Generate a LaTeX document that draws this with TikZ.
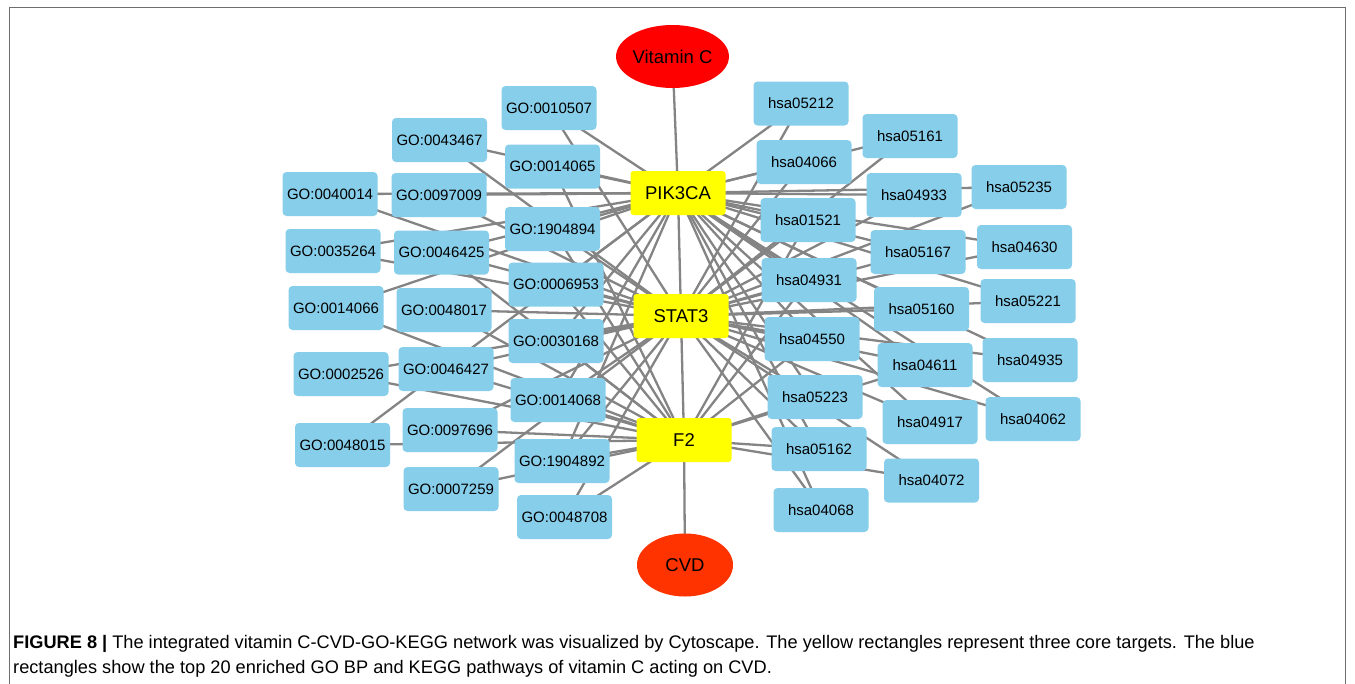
\documentclass[tikz,border=0pt]{standalone}
\usepackage{fontspec}
\setmainfont{Liberation Sans}
\usetikzlibrary{shapes.geometric}
\pgfdeclarelayer{bg}
\pgfdeclarelayer{edges}
\pgfsetlayers{bg,edges,main}
\definecolor{goblue}{RGB}{135,206,235}
\definecolor{coreyel}{RGB}{255,255,0}
\definecolor{vcred}{RGB}{255,0,0}
\definecolor{cvdred}{RGB}{255,51,0}
\definecolor{edgegray}{RGB}{132,132,132}
\definecolor{framegray}{RGB}{110,110,110}
\begin{document}
\begin{tikzpicture}[x=1pt,y=-1pt,
  termbox/.style={fill=goblue, rounded corners=4pt, minimum width=95pt, minimum height=44pt, inner sep=0pt, font=\fontsize{15}{18}\selectfont},
  corebox/.style={fill=coreyel, rounded corners=3pt, minimum width=95pt, minimum height=44pt, inner sep=0pt, font=\fontsize{18.5}{22}\selectfont},
  endell/.style={ellipse, minimum width=96pt, minimum height=63pt, inner sep=0pt, font=\fontsize{18.5}{22}\selectfont},
  link/.style={draw=edgegray, line width=2.3pt},
  captext/.style={anchor=base west, inner sep=0pt, font=\fontsize{18.2}{22}\selectfont}]
\useasboundingbox (0,0) rectangle (1355,683);
\begin{pgfonlayer}{bg}
  \fill[white] (0,0) rectangle (1355,683);
  \draw[framegray, line width=1pt] (9.5,700) -- (9.5,7.5) -- (1345.5,7.5) -- (1345.5,700);
\end{pgfonlayer}

% end nodes
\node[endell, fill=vcred] (VC) at (672.5,56.5) {Vitamin C};
\node[endell, fill=cvdred] (CVD) at (685,565) {CVD};
% core targets
\node[corebox] (P) at (678,193) {PIK3CA};
\node[corebox] (S) at (681,316) {STAT3};
\node[corebox] (F) at (684,440) {F2};

% GO terms
\node[termbox] (g0010507) at (549,108) {GO:0010507};
\node[termbox] (g0043467) at (439.5,140) {GO:0043467};
\node[termbox] (g0014065) at (552.5,166.5) {GO:0014065};
\node[termbox] (g0040014) at (330,194) {GO:0040014};
\node[termbox] (g0097009) at (439,195) {GO:0097009};
\node[termbox] (g1904894) at (552.5,229) {GO:1904894};
\node[termbox] (g0035264) at (333,251) {GO:0035264};
\node[termbox] (g0046425) at (441.5,252.5) {GO:0046425};
\node[termbox] (g0006953) at (556,284.5) {GO:0006953};
\node[termbox] (g0014066) at (336,308) {GO:0014066};
\node[termbox] (g0048017) at (444,310) {GO:0048017};
\node[termbox] (g0030168) at (556,341) {GO:0030168};
\node[termbox] (g0002526) at (341,374) {GO:0002526};
\node[termbox] (g0046427) at (446,369) {GO:0046427};
\node[termbox] (g0014068) at (558,400) {GO:0014068};
\node[termbox] (g0048015) at (342.5,445) {GO:0048015};
\node[termbox] (g0097696) at (450,430) {GO:0097696};
\node[termbox] (g1904892) at (562,461) {GO:1904892};
\node[termbox] (g0007259) at (451,489) {GO:0007259};
\node[termbox] (g0048708) at (564.5,517) {GO:0048708};

% KEGG pathways
\node[termbox] (h05212) at (801,103.5) {hsa05212};
\node[termbox] (h05161) at (910,136) {hsa05161};
\node[termbox] (h04066) at (804,162) {hsa04066};
\node[termbox] (h04933) at (914,195) {hsa04933};
\node[termbox] (h05235) at (1019,187) {hsa05235};
\node[termbox] (h01521) at (808,220) {hsa01521};
\node[termbox] (h05167) at (918,252) {hsa05167};
\node[termbox] (h04630) at (1024.5,247) {hsa04630};
\node[termbox] (h04931) at (809,280) {hsa04931};
\node[termbox] (h05160) at (921.5,309) {hsa05160};
\node[termbox] (h05221) at (1028,301) {hsa05221};
\node[termbox] (h04550) at (812,339) {hsa04550};
\node[termbox] (h04611) at (925,365) {hsa04611};
\node[termbox] (h04935) at (1030,360) {hsa04935};
\node[termbox] (h05223) at (815,397) {hsa05223};
\node[termbox] (h04917) at (930,422) {hsa04917};
\node[termbox] (h04062) at (1033,419) {hsa04062};
\node[termbox] (h05162) at (819,449) {hsa05162};
\node[termbox] (h04072) at (931.5,480.5) {hsa04072};
\node[termbox] (h04068) at (821,510) {hsa04068};

% caption
\node[captext] (cap1) at (13,648) {\textbf{FIGURE 8 |} The integrated vitamin C-CVD-GO-KEGG network was visualized by Cytoscape. The yellow rectangles represent three core targets. The blue};
\node[captext] (cap2) at (13,673) {rectangles show the top 20 enriched GO BP and KEGG pathways of vitamin C acting on CVD.};

\begin{pgfonlayer}{edges}
  \foreach \a/\b in {VC/P, P/S, S/F, F/CVD,
    g0010507/P, g0010507/S,
    g0043467/P, g0043467/S,
    g0014065/P, g0014065/F,
    g0040014/P, g0040014/S,
    g0097009/P, g0097009/S,
    g1904894/P, g1904894/S, g1904894/F,
    g0035264/P, g0035264/S,
    g0046425/P, g0046425/S, g0046425/F,
    g0006953/P, g0006953/S, g0006953/F,
    g0014066/P, g0014066/F,
    g0048017/S, g0048017/F,
    g0030168/P, g0030168/S, g0030168/F,
    g0002526/S, g0002526/F,
    g0046427/S, g0046427/F,
    g0014068/P, g0014068/S, g0014068/F,
    g0048015/P, g0048015/F,
    g0097696/S, g0097696/F,
    g1904892/P, g1904892/S, g1904892/F,
    g0007259/S, g0007259/F,
    g0048708/S, g0048708/F,
    h05212/P, h05212/S,
    h05161/P, h05161/S,
    h04066/P, h04066/S,
    h04933/P, h04933/S,
    h05235/P, h05235/S,
    h01521/P, h01521/S, h01521/F,
    h05167/P, h05167/S,
    h04630/P, h04630/S,
    h04931/P, h04931/S, h04931/F,
    h05160/P, h05160/S,
    h05221/P, h05221/S,
    h04550/P, h04550/S, h04550/F,
    h04611/P, h04611/S, h04611/F,
    h04935/P, h04935/S,
    h05223/P, h05223/S, h05223/F,
    h04917/P, h04917/S,
    h04062/P, h04062/S,
    h05162/P, h05162/S, h05162/F,
    h04072/S, h04072/F,
    h04068/P, h04068/S}
    \draw[link] (\a.center) -- (\b.center);
\end{pgfonlayer}
\end{tikzpicture}
\end{document}
